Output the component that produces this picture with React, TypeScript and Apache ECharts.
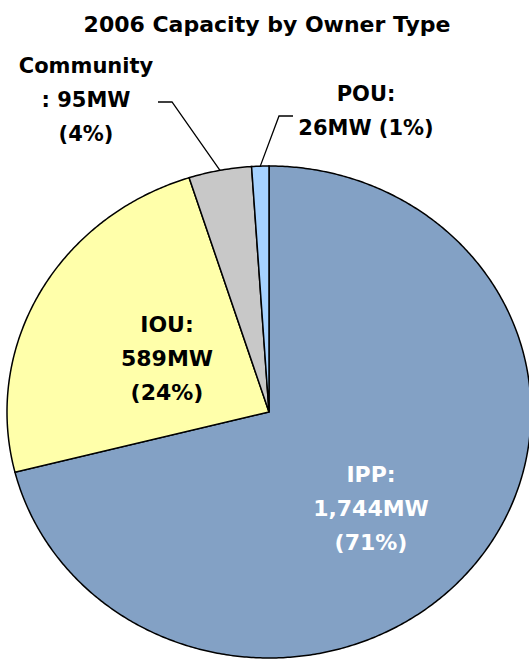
import React, { useEffect, useRef } from "react";
import * as echarts from "echarts";

// ---- data ----
const chartTitle = "2006 Capacity by Owner Type";
const categories = ["IPP", "IOU", "Community", "POU"];
const capacityMW = [1744, 589, 95, 26];
const percentages = [71, 24, 4, 1];

// ---- styling / layout (not data) ----
const sliceColors = ["#83A1C5", "#FFFFAA", "#C8C8C8", "#A6D2FF"];
const FONT = "'DejaVu Sans', 'Noto Sans', sans-serif";
const CX = 269;
const CY = 412;
const RX = 262;
const RY = 246;

type LabelSpec = {
  x: number;
  y: number;
  color: string;
  size: number;
  leader?: number[][]; // points on label side; last point is computed from slice
};

const labelLayout: LabelSpec[] = [
  { x: 371, y: 508, color: "#FFFFFF", size: 22 },
  { x: 167, y: 358, color: "#000000", size: 22 },
  { x: 86, y: 100, color: "#000000", size: 21, leader: [[158, 102], [172, 102]] },
  { x: 366, y: 111, color: "#000000", size: 21, leader: [[293, 116], [279, 116]] },
];

function fmt(v: number) {
  return v.toLocaleString("en-US");
}

function labelText(i: number): string {
  const name = categories[i];
  const v = fmt(capacityMW[i]) + "MW";
  const p = "(" + percentages[i] + "%)";
  if (name === "Community") return name + "\n: " + v + "\n" + p;
  if (name === "POU") return name + ":\n" + v + " " + p;
  return name + ":\n" + v + "\n" + p;
}

export default function App() {
  const ref = useRef<HTMLDivElement>(null);

  useEffect(() => {
    document.body.style.margin = "0";
    if (!ref.current) return;
    const chart = echarts.init(ref.current, null, { renderer: "svg" });

    const total = capacityMW.reduce((a, b) => a + b, 0);
    const cum: number[] = [];
    let acc = 0;
    capacityMW.forEach((v) => {
      cum.push(acc);
      acc += v;
    });

    const pt = (a: number) => [CX + RX * Math.sin(a), CY - RY * Math.cos(a)];

    chart.setOption({
      animation: false,
      backgroundColor: "#FFFFFF",
      title: {
        text: chartTitle,
        left: 262,
        textAlign: "center",
        top: 8,
        textStyle: {
          fontFamily: FONT,
          fontSize: 22,
          fontWeight: "bold",
          color: "#000000",
        },
      },
      series: [
        {
          type: "custom",
          coordinateSystem: "none",
          data: capacityMW.map((v, i) => ({ value: v, name: categories[i] })),
          renderItem: (params: any, api: any) => {
            const i = params.dataIndex;
            const v = api.value(0) as number;
            const a0 = (cum[i] / total) * Math.PI * 2;
            const a1 = ((cum[i] + v) / total) * Math.PI * 2;
            const steps = Math.max(2, Math.ceil((a1 - a0) / (Math.PI / 360)));
            const pts: number[][] = [[CX, CY]];
            for (let k = 0; k <= steps; k++) pts.push(pt(a0 + ((a1 - a0) * k) / steps));

            const lay = labelLayout[i];
            const children: any[] = [
              {
                type: "polygon",
                shape: { points: pts },
                style: {
                  fill: sliceColors[i],
                  stroke: "#000000",
                  lineWidth: 1.5,
                  lineJoin: "miter",
                },
              },
            ];
            if (lay.leader) {
              const mid = pt((a0 + a1) / 2);
              children.push({
                type: "polyline",
                shape: { points: [...lay.leader, mid] },
                style: { stroke: "#000000", lineWidth: 1.3, fill: null },
                z2: 5,
              });
            }
            children.push({
              type: "text",
              z2: 10,
              style: {
                text: labelText(i),
                x: lay.x,
                y: lay.y,
                align: "center",
                verticalAlign: "middle",
                fill: lay.color,
                fontFamily: FONT,
                fontSize: lay.size,
                fontWeight: "bold",
                lineHeight: 34,
              },
            });
            return { type: "group", children };
          },
        },
      ],
    });

    return () => {
      chart.dispose();
    };
  }, []);

  return <div ref={ref} style={{ width: 529, height: 661 }} />;
}
